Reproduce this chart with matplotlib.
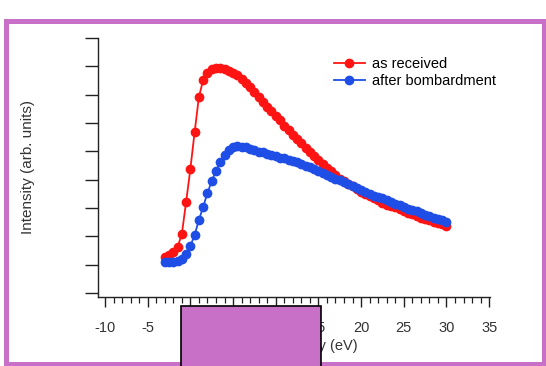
import matplotlib
matplotlib.use("Agg")
import matplotlib.pyplot as plt
from matplotlib.patches import Rectangle
from matplotlib.ticker import MultipleLocator

plt.rcParams['font.family'] = ['Liberation Sans', 'DejaVu Sans']

# energy grid (eV), 0.5 eV steps
energy = [-3.0, -2.5, -2.0, -1.5, -1.0, -0.5, 0.0, 0.5, 1.0, 1.5,
          2.0, 2.5, 3.0, 3.5, 4.0, 4.5, 5.0, 5.5, 6.0, 6.5,
          7.0, 7.5, 8.0, 8.5, 9.0, 9.5, 10.0, 10.5, 11.0, 11.5,
          12.0, 12.5, 13.0, 13.5, 14.0, 14.5, 15.0, 15.5, 16.0, 16.5,
          17.0, 17.5, 18.0, 18.5, 19.0, 19.5, 20.0, 20.5, 21.0, 21.5,
          22.0, 22.5, 23.0, 23.5, 24.0, 24.5, 25.0, 25.5, 26.0, 26.5,
          27.0, 27.5, 28.0, 28.5, 29.0, 29.5, 30.0]

# intensity, as received
as_received = [1.27, 1.34, 1.45, 1.62, 2.08, 3.21, 4.38, 5.68, 6.92, 7.52,
               7.77, 7.89, 7.94, 7.94, 7.91, 7.85, 7.78, 7.70, 7.55, 7.41,
               7.27, 7.09, 6.92, 6.74, 6.57, 6.41, 6.25, 6.11, 5.91, 5.74,
               5.56, 5.44, 5.28, 5.12, 4.98, 4.82, 4.68, 4.55, 4.41, 4.29,
               4.17, 4.04, 3.94, 3.85, 3.76, 3.67, 3.58, 3.51, 3.42, 3.35,
               3.27, 3.19, 3.12, 3.07, 3.02, 2.95, 2.89, 2.84, 2.79, 2.72,
               2.66, 2.61, 2.56, 2.51, 2.47, 2.42, 2.38]

# intensity, after bombardment
after_bomb = [1.09, 1.09, 1.09, 1.13, 1.20, 1.38, 1.66, 2.05, 2.58, 3.04,
              3.53, 3.95, 4.31, 4.62, 4.87, 5.05, 5.14, 5.19, 5.17, 5.14,
              5.08, 5.05, 4.99, 4.96, 4.92, 4.87, 4.84, 4.78, 4.75, 4.71,
              4.66, 4.61, 4.55, 4.50, 4.45, 4.38, 4.32, 4.25, 4.18, 4.11,
              4.04, 3.99, 3.92, 3.85, 3.76, 3.69, 3.62, 3.55, 3.49, 3.44,
              3.39, 3.34, 3.27, 3.21, 3.14, 3.09, 3.04, 2.98, 2.93, 2.88,
              2.82, 2.77, 2.72, 2.66, 2.61, 2.56, 2.52]

x_ticks = [-10, -5, 0, 5, 10, 15, 20, 25, 30, 35]

W, H = 546, 366
fig = plt.figure(figsize=(W / 100, H / 100), dpi=100)
fig.patch.set_facecolor('white')

# axes box in pixels: left 98, right 490, top 38, bottom 297
ax = fig.add_axes([98 / W, (H - 297) / H, 392 / W, 259 / H])

red = '#ff1414'
blue = '#1e4ee6'
ax.plot(energy, as_received, '-o', color=red, lw=1.3, ms=6,
        mec=red, mfc=red, label='as received', zorder=3)
ax.plot(energy, after_bomb, '-o', color=blue, lw=1.3, ms=6,
        mec=blue, mfc=blue, label='after bombardment', zorder=4)

ax.set_xlim(-10.82, 35.1)
ax.set_ylim(-0.14, 9)

for side in ['top', 'right']:
    ax.spines[side].set_visible(False)
for side in ['left', 'bottom']:
    ax.spines[side].set_color('#222222')
    ax.spines[side].set_linewidth(1.0)

ax.set_xticks(x_ticks)
ax.set_xticklabels([str(t) for t in x_ticks])
ax.xaxis.set_minor_locator(MultipleLocator(1))
ax.set_yticks(range(0, 10))
ax.set_yticklabels([])
ax.tick_params(axis='x', which='major', direction='out', length=7.5, width=1,
               color='#222222', labelsize=10.5, labelcolor='#333333', pad=9.5)
ax.tick_params(axis='x', which='minor', direction='out', length=4, width=0.9,
               color='#222222')
ax.tick_params(axis='y', which='major', direction='out', length=9.5, width=1,
               color='#222222')

ax.set_xlabel('Kinetic Energy (eV)', fontsize=10.5, color='#333333', labelpad=3)
ax.set_ylabel('Intensity (arb. units)', fontsize=11, color='#333333')
ax.yaxis.set_label_coords(-0.16, 0.5)

ax.legend(loc='upper left', bbox_to_anchor=(334 / W, 1 - 57 / H),
          bbox_transform=fig.transFigure, frameon=False, fontsize=10.5,
          handlelength=2.1, handletextpad=0.5, labelspacing=0.2,
          borderpad=0, borderaxespad=0)

# purple frame and the block over the axis title
purple = '#c870c8'
fig.patches.append(Rectangle((5.5 / W, (H - 363.5) / H), 538 / W, 343 / H,
                             transform=fig.transFigure, fill=False,
                             edgecolor=purple, linewidth=3.6, zorder=10))
fig.patches.append(Rectangle((181 / W, -0.05), 140 / W, (H - 306) / H + 0.05,
                             transform=fig.transFigure, facecolor=purple,
                             edgecolor='black', linewidth=1.2, zorder=11))

fig.savefig('out.png', dpi=100, facecolor='white')
